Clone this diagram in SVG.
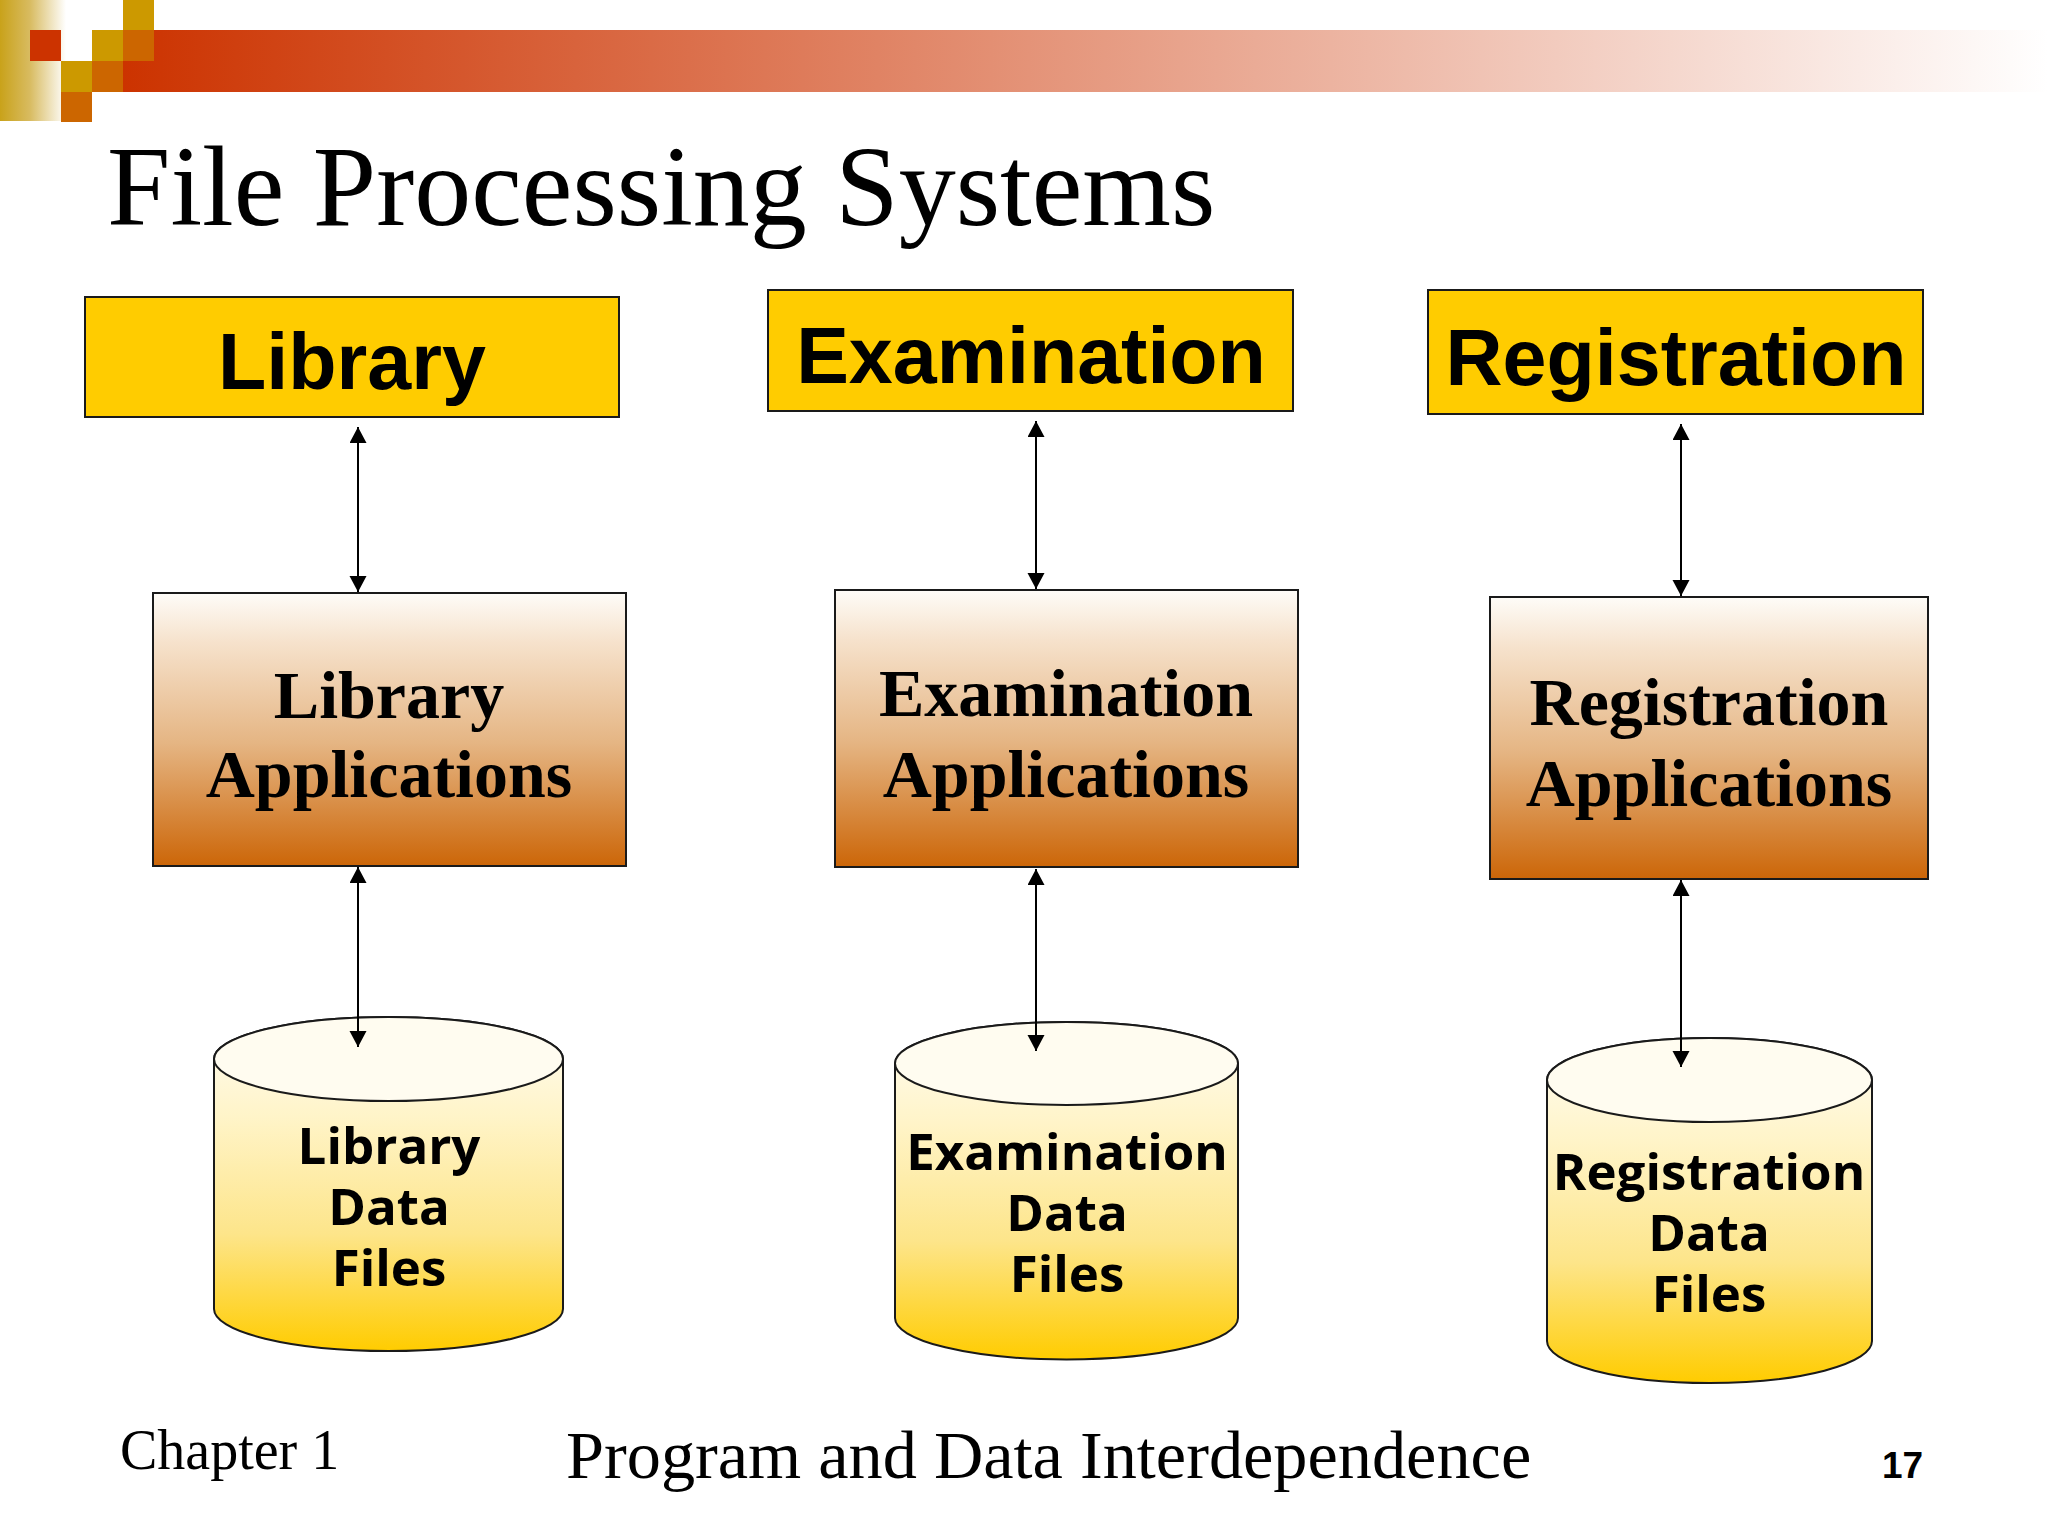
<svg xmlns="http://www.w3.org/2000/svg" width="2048" height="1536" viewBox="0 0 2048 1536">
<defs>
  <linearGradient id="barGrad" x1="0" y1="0" x2="1" y2="0">
    <stop offset="0" stop-color="#cc3300"/>
    <stop offset="1" stop-color="#ffffff"/>
  </linearGradient>
  <linearGradient id="stripGrad" x1="0" y1="0" x2="1" y2="0">
    <stop offset="0" stop-color="#c9a21a"/>
    <stop offset="0.45" stop-color="#d8bb60"/>
    <stop offset="1" stop-color="#ffffff"/>
  </linearGradient>
  <linearGradient id="appGrad" x1="0" y1="0" x2="0" y2="1">
    <stop offset="0" stop-color="#fefcf8"/>
    <stop offset="0.18" stop-color="#f6e2cc"/>
    <stop offset="0.55" stop-color="#e5b583"/>
    <stop offset="1" stop-color="#cc6608"/>
  </linearGradient>
  <linearGradient id="cylGrad" x1="0" y1="0" x2="0" y2="1">
    <stop offset="0" stop-color="#fffdf5"/>
    <stop offset="0.3" stop-color="#fff4c8"/>
    <stop offset="0.65" stop-color="#fde58a"/>
    <stop offset="1" stop-color="#ffcc00"/>
  </linearGradient>
  <marker id="arr" markerUnits="userSpaceOnUse" markerWidth="18" markerHeight="18" refX="16" refY="8.5" orient="auto-start-reverse">
    <path d="M0,0 L16,8.5 L0,17 z" fill="#000"/>
  </marker>
  <style>
    .top { fill: #ffcc00; stroke: #1a1a1a; stroke-width: 2; }
    .toptxt { font-family: "Liberation Sans", Arial, sans-serif; font-weight: bold; font-size: 79px; fill: #000; text-anchor: middle; }
    .app { fill: url(#appGrad); stroke: #1a1a1a; stroke-width: 2; }
    .apptxt { font-family: "Liberation Serif", "Times New Roman", serif; font-weight: bold; font-size: 68px; fill: #000; text-anchor: middle; }
    .cyl { fill: url(#cylGrad); stroke: #1a1a1a; stroke-width: 2; }
    .cyltop { fill: #fffcf0; stroke: #1a1a1a; stroke-width: 2; }
    .cyltxt { font-family: "Open Sans", "Noto Sans", sans-serif; font-weight: bold; font-size: 51px; fill: #000; text-anchor: middle; }
    .conn { stroke: #000; stroke-width: 2; fill: none; marker-start: url(#arr); marker-end: url(#arr); }
  </style>
</defs>
<rect width="2048" height="1536" fill="#ffffff"/>

<g id="header">
  <rect x="0" y="0" width="66" height="121" fill="url(#stripGrad)"/>
  <rect x="123" y="30" width="1925" height="62" fill="url(#barGrad)"/>
  <rect x="123" y="0" width="31" height="30" fill="#cc9900"/>
  <rect x="30" y="30" width="31" height="31" fill="#cc3300"/>
  <rect x="92" y="30" width="31" height="31" fill="#cc9900"/>
  <rect x="123" y="30" width="31" height="31" fill="#cc6600"/>
  <rect x="61" y="61" width="31" height="31" fill="#cc9900"/>
  <rect x="92" y="61" width="31" height="31" fill="#cc6600"/>
  <rect x="61" y="92" width="31" height="30" fill="#cc6600"/>
  <text x="107" y="225" font-family="Liberation Serif, 'Times New Roman', serif" font-size="114" fill="#000">File Processing Systems</text>
</g>

<g id="library">
  <rect class="top" x="85" y="297" width="534" height="120"/>
  <text class="toptxt" x="352" y="389">Library</text>
</g>
<g id="examination">
  <rect class="top" x="768" y="290" width="525" height="121"/>
  <text class="toptxt" x="1031" y="383">Examination</text>
</g>
<g id="registration">
  <rect class="top" x="1428" y="290" width="495" height="124"/>
  <text class="toptxt" x="1676" y="385">Registration</text>
</g>

<g id="library-apps">
  <rect class="app" x="153" y="593" width="473" height="273"/>
  <text class="apptxt" x="389" y="718">Library</text>
  <text class="apptxt" x="389" y="797">Applications</text>
</g>
<g id="examination-apps">
  <rect class="app" x="835" y="590" width="463" height="277"/>
  <text class="apptxt" x="1066" y="716">Examination</text>
  <text class="apptxt" x="1066" y="797">Applications</text>
</g>
<g id="registration-apps">
  <rect class="app" x="1490" y="597" width="438" height="282"/>
  <text class="apptxt" x="1709" y="725">Registration</text>
  <text class="apptxt" x="1709" y="806">Applications</text>
</g>

<g id="library-data">
  <path class="cyl" d="M214,1059 V1309 A174.5,42 0 0 0 563,1309 V1059 A174.5,42 0 0 0 214,1059 Z"/>
  <ellipse class="cyltop" cx="388.5" cy="1059" rx="174.5" ry="42"/>
  <text class="cyltxt" x="389" y="1164">Library</text>
  <text class="cyltxt" x="389" y="1225">Data</text>
  <text class="cyltxt" x="389" y="1286">Files</text>
</g>
<g id="examination-data">
  <path class="cyl" d="M895,1063.5 V1318 A171.5,41.5 0 0 0 1238,1318 V1063.5 A171.5,41.5 0 0 0 895,1063.5 Z"/>
  <ellipse class="cyltop" cx="1066.5" cy="1063.5" rx="171.5" ry="41.5"/>
  <text class="cyltxt" x="1067" y="1170">Examination</text>
  <text class="cyltxt" x="1067" y="1231">Data</text>
  <text class="cyltxt" x="1067" y="1292">Files</text>
</g>
<g id="registration-data">
  <path class="cyl" d="M1547,1080 V1341 A162.5,42 0 0 0 1872,1341 V1080 A162.5,42 0 0 0 1547,1080 Z"/>
  <ellipse class="cyltop" cx="1709.5" cy="1080" rx="162.5" ry="42"/>
  <text class="cyltxt" x="1709" y="1190">Registration</text>
  <text class="cyltxt" x="1709" y="1251">Data</text>
  <text class="cyltxt" x="1709" y="1312">Files</text>
</g>

<g id="connectors">
  <line class="conn" x1="358" y1="427" x2="358" y2="592"/>
  <line class="conn" x1="358" y1="867" x2="358" y2="1047"/>
  <line class="conn" x1="1036" y1="421" x2="1036" y2="589"/>
  <line class="conn" x1="1036" y1="869" x2="1036" y2="1051"/>
  <line class="conn" x1="1681" y1="424" x2="1681" y2="596"/>
  <line class="conn" x1="1681" y1="880" x2="1681" y2="1067"/>
</g>

<g id="footer">
  <text x="120" y="1469" font-family="Liberation Serif, 'Times New Roman', serif" font-size="56" fill="#000">Chapter 1</text>
  <text x="566" y="1478" font-family="Liberation Serif, 'Times New Roman', serif" font-size="68.3" fill="#000">Program and Data Interdependence</text>
  <text x="1882" y="1478" font-family="Liberation Sans, Arial, sans-serif" font-weight="bold" font-size="37" fill="#000">17</text>
</g>
</svg>
